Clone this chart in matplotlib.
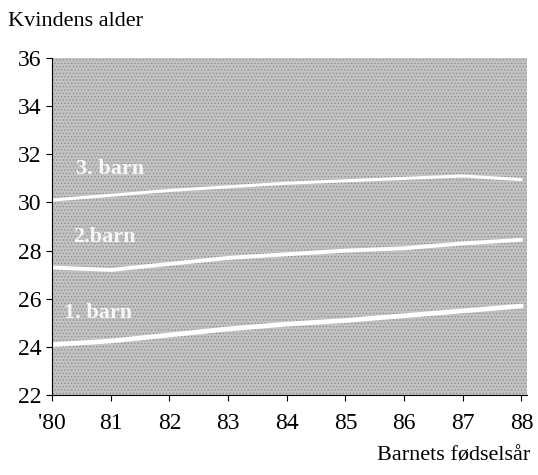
import numpy as np
import matplotlib.pyplot as plt

years = [80, 81, 82, 83, 84, 85, 86, 87, 88]
year_labels = ["'80", "81", "82", "83", "84", "85", "86", "87", "88"]
barn1 = [24.1, 24.25, 24.5, 24.75, 24.95, 25.1, 25.3, 25.5, 25.7]
barn2 = [27.3, 27.2, 27.45, 27.7, 27.85, 28.0, 28.1, 28.3, 28.45]
barn3 = [30.1, 30.3, 30.5, 30.65, 30.8, 30.9, 31.0, 31.1, 30.95]
line_names = ['1. barn', '2.barn', '3. barn']

plt.rcParams['font.family'] = ['Liberation Serif', 'DejaVu Serif']
plt.rcParams['hatch.linewidth'] = 0.5

fig = plt.figure(figsize=(5.38, 4.75), dpi=100)
ax = fig.add_axes([0.097, 0.168, 0.883, 0.71])
ax.set_facecolor('#c2c2c2')
ax.patch.set_hatch('.....')
ax.patch.set_edgecolor('#8a8a8a')

ax.plot(years, barn1, color='white', lw=3.4, solid_capstyle='round')
ax.plot(years, barn2, color='white', lw=2.8, solid_capstyle='round')
ax.plot(years, barn3, color='white', lw=2.2, solid_capstyle='round')

label_pos = [(80.2, 25.4), (80.35, 28.55), (80.4, 31.4)]
for name, (lx, ly) in zip(line_names, label_pos):
    ax.text(lx, ly, name, color='white', fontsize=16, fontweight='bold',
            va='center', ha='left', alpha=0.9)

ax.set_xlim(80, 88.1)
ax.set_ylim(22, 36)
ax.set_yticks(range(22, 37, 2))
ax.set_xticks(years)
ax.set_xticklabels(year_labels)
ax.spines['top'].set_visible(False)
ax.spines['right'].set_visible(False)
ax.tick_params(axis='both', labelsize=17, length=4, width=0.8)
ax.tick_params(axis='x', pad=9)

fig.text(0.015, 0.955, 'Kvindens alder', fontsize=16, va='center')
fig.text(0.985, 0.04, 'Barnets fødselsår', fontsize=16, ha='right', va='center')

fig.savefig('out.png', dpi=100)
